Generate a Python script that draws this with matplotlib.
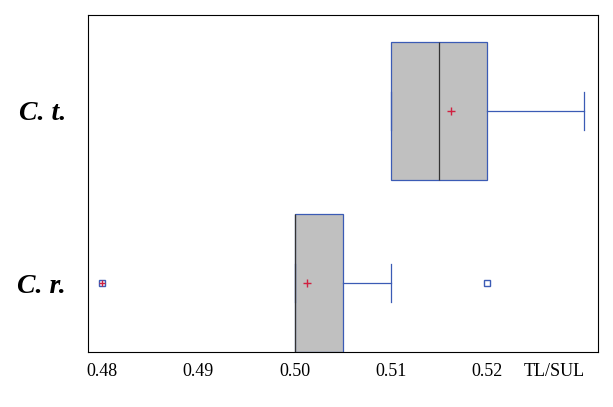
import matplotlib
matplotlib.use("Agg")
import matplotlib.pyplot as plt

groups = ["C. r.", "C. t."]
q1 = [0.500, 0.510]
med = [0.500, 0.515]
q3 = [0.505, 0.520]
whislo = [0.500, 0.510]
whishi = [0.510, 0.530]
means = [0.5013, 0.5162]
fliers = [[0.480, 0.520], []]
xticks = [0.48, 0.49, 0.50, 0.51, 0.52]

fig = plt.figure(figsize=(6.13, 4.07), dpi=100)
ax = fig.add_axes([88/613, 1-352/407, 510/613, 337/407])
stats = [dict(label=g, q1=a, med=m, q3=b, whislo=lo, whishi=hi, mean=mu, fliers=f)
         for g, a, m, b, lo, hi, mu, f in zip(groups, q1, med, q3, whislo, whishi, means, fliers)]
blue = "#3b5bb5"
ax.bxp(stats, positions=[1, 2], widths=0.8, capwidths=0.22, vert=False, patch_artist=True, showmeans=True,
       showcaps=True,
       boxprops=dict(facecolor="#c0c0c0", edgecolor=blue, linewidth=0.9),
       medianprops=dict(color="#333333", linewidth=0.9),
       whiskerprops=dict(color=blue, linewidth=0.9),
       capprops=dict(color=blue, linewidth=0.9),
       meanprops=dict(marker="+", markeredgecolor="#d02040", markersize=6),
       flierprops=dict(marker="s", markerfacecolor="none", markeredgecolor=blue, markersize=5))
ax.plot([0.48], [1], marker="+", color="#d02040", markersize=5, linestyle="none")
ax.set_ylim(0.6, 2.555)
ax.set_xlim(0.47855, 0.5315)
ax.set_xticks(xticks + [0.527])
ax.set_xticklabels([f"{t:.2f}" for t in xticks] + ["TL/SUL"], family="Liberation Serif", fontsize=13)
ax.set_yticks([1, 2])
ax.set_yticklabels(groups, family="Liberation Serif", fontsize=20, fontweight="bold", style="italic")
ax.tick_params(length=0, pad=8)
ax.tick_params(axis="y", pad=16)
for s in ax.spines.values():
    s.set_linewidth(0.8)
fig.savefig("out.png", dpi=100)
